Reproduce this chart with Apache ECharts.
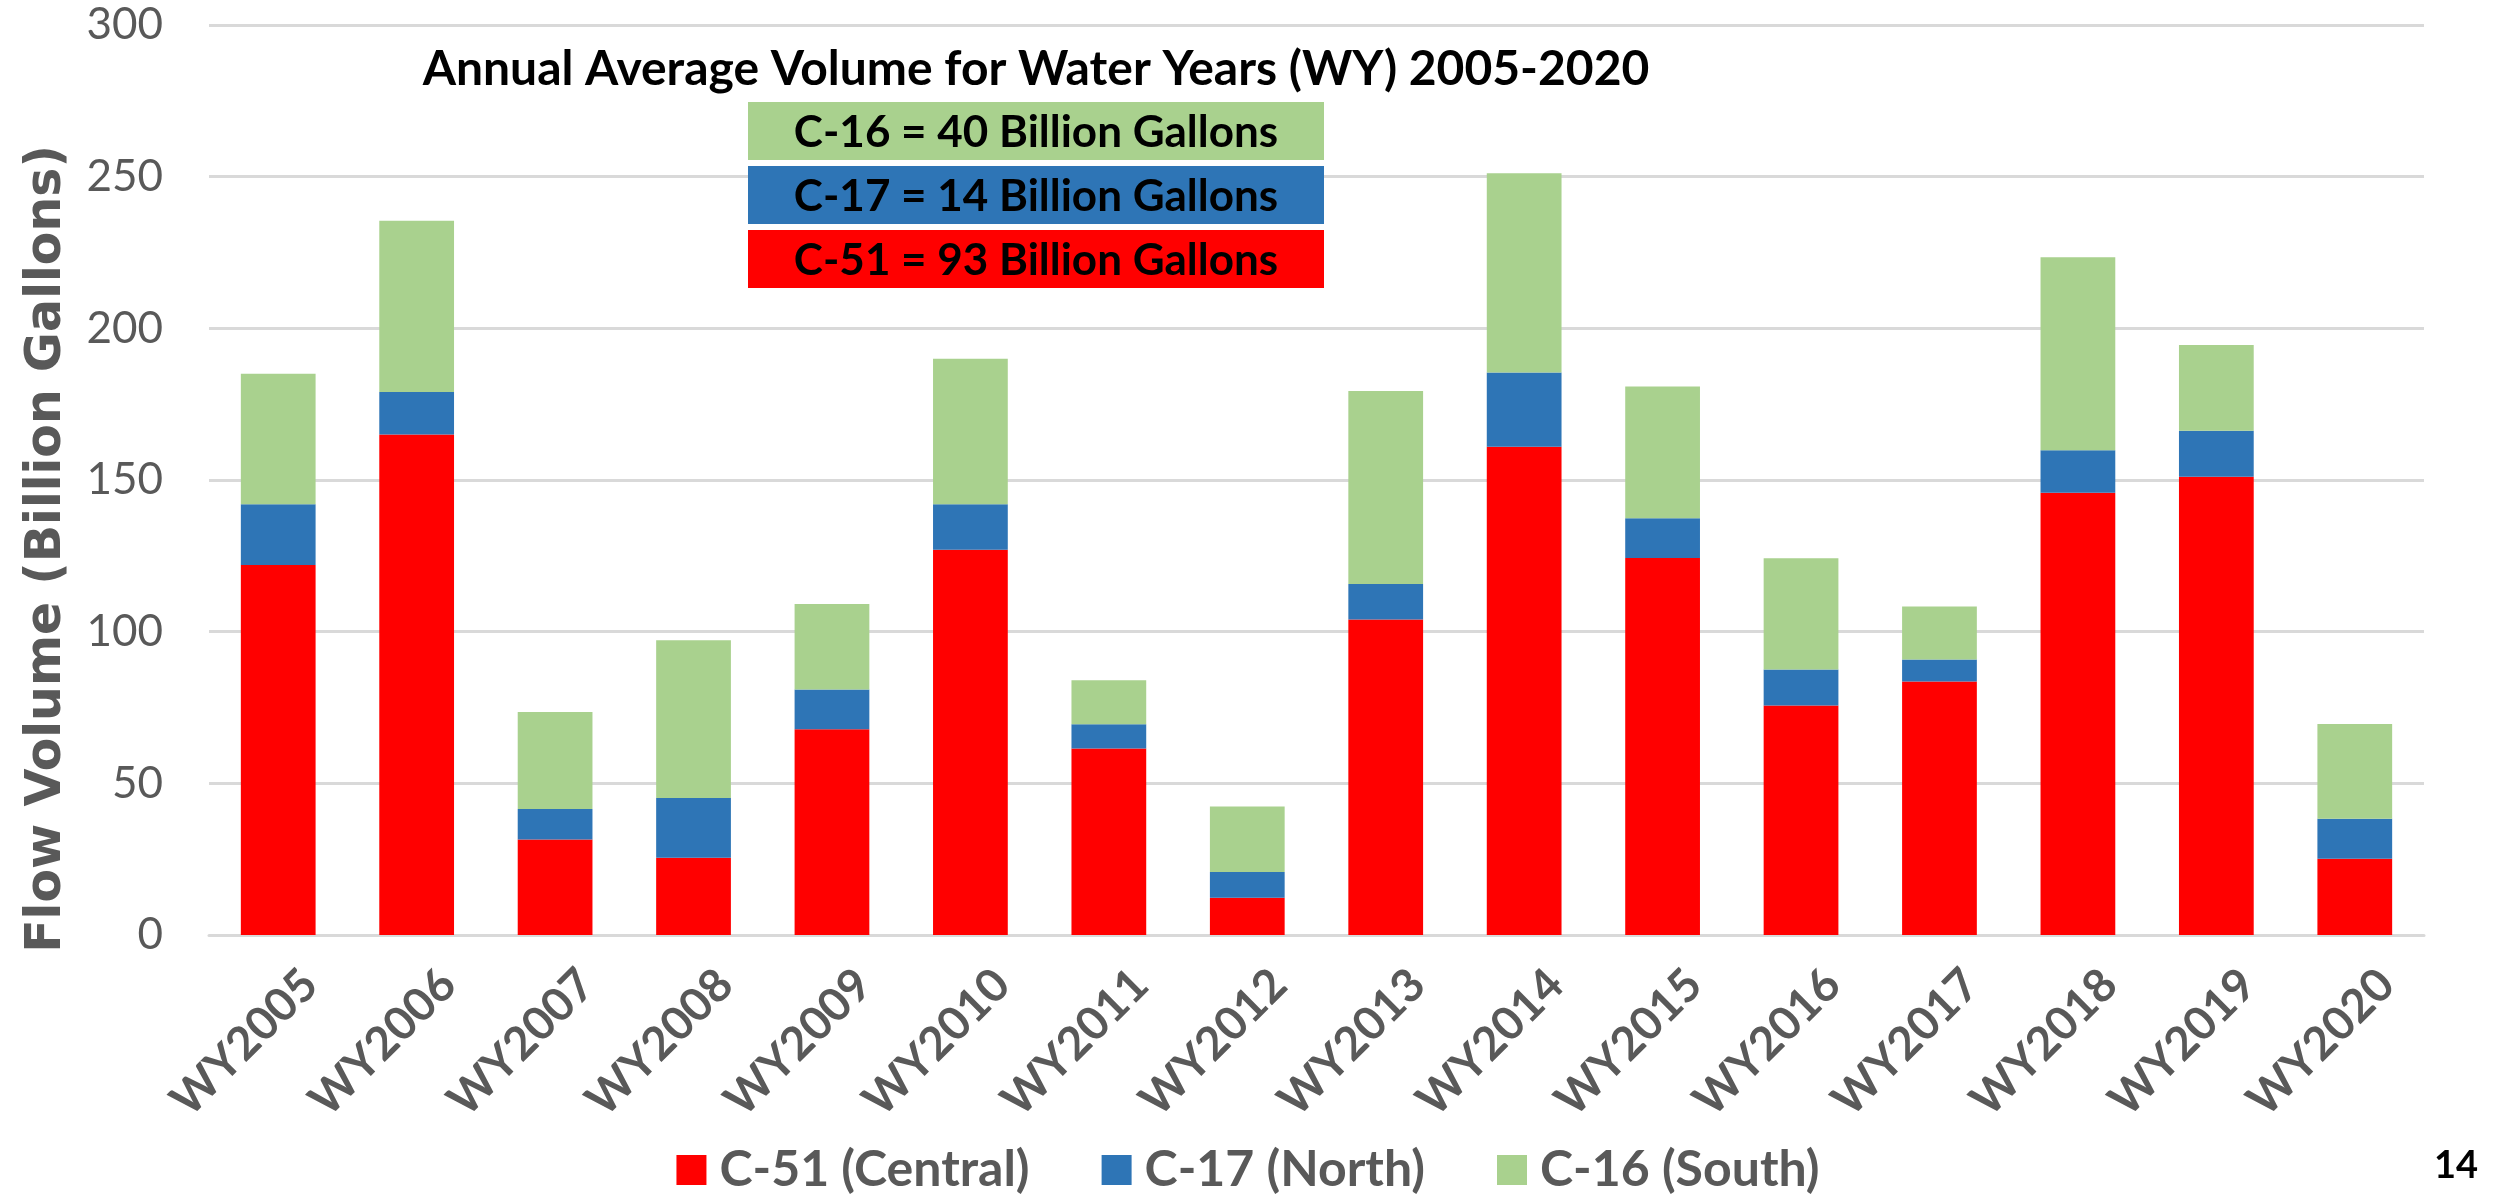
<!DOCTYPE html>
<html>
<head>
<meta charset="utf-8">
<title>Annual Average Volume</title>
<script src="https://cdn.jsdelivr.net/npm/echarts@6/dist/echarts.min.js"></script>
<style>
    html, body {margin: 0; padding: 0; background: #fff;}
    #chart {width: 2496px; height: 1197px;}
</style>
</head>
<body>
<div id="chart"></div>
<script>
// water years
var years = ['WY2005', 'WY2006', 'WY2007', 'WY2008', 'WY2009', 'WY2010', 'WY2011', 'WY2012',
    'WY2013', 'WY2014', 'WY2015', 'WY2016', 'WY2017', 'WY2018', 'WY2019', 'WY2020'];
// C-51 (Central), billion gallons
var c51 = [122, 165, 31.5, 25.5, 67.8, 127, 61.5, 12.3, 104, 161, 124.3, 75.7, 83.6, 145.8, 151.1, 25.1];
// C-17 (North)
var c17 = [20, 14, 10, 19.7, 13.1, 15, 8, 8.5, 11.7, 24.4, 13.1, 11.8, 7.2, 14, 15.1, 13.2];
// C-16 (South)
var c16 = [43, 56.5, 32, 52, 28.2, 48, 14.5, 21.6, 63.6, 65.7, 43.4, 36.7, 17.5, 63.6, 28.3, 31.3];
var yTicks = [0, 50, 100, 150, 200, 250, 300];
var title = 'Annual Average Volume for Water Years (WY) 2005-2020';
var averages = [
    {text: 'C-16 = 40 Billion Gallons', color: '#A9D18E'},
    {text: 'C-17 = 14 Billion Gallons', color: '#2E75B6'},
    {text: 'C-51 = 93 Billion Gallons', color: '#FF0000'}
];

var labelFont = 'Lato, "Open Sans", sans-serif';
var gray = '#595959';

var myChart = echarts.init(document.getElementById('chart'));

// 平均值方框 (absolute position, drawn above the grid lines)
var boxes = [];
averages.forEach(function(a, i) {
    var y0 = 102 + i * 64;
    boxes.push({
        type: 'rect',
        z: 100,
        shape: {x: 748, y: y0, width: 576, height: 58},
        style: {fill: a.color}
    });
    boxes.push({
        type: 'text',
        z: 101,
        x: 1036,
        y: y0 + 31,
        style: {
            text: a.text,
            font: 'bold 44px ' + labelFont,
            fill: '#000',
            align: 'center',
            verticalAlign: 'middle'
        }
    });
});

var basic = {
    type: 'bar',
    stack: 'total',
    barWidth: '54%'
};

var option = {
    animation: false,
    backgroundColor: '#fff',
    grid: {left: 209, right: 72, top: 25, bottom: 262},
    legend: {
        top: 1140,
        left: 'center',
        icon: 'rect',
        itemWidth: 30,
        itemHeight: 30,
        itemGap: 72,
        textStyle: {
            color: gray,
            fontFamily: labelFont,
            fontSize: 50,
            fontWeight: 'bold',
            padding: [0, 0, 0, 8]
        },
        data: ['C-51 (Central)', 'C-17 (North)', 'C-16 (South)']
    },
    xAxis: {
        type: 'category',
        data: years,
        axisTick: {show: false},
        axisLine: {lineStyle: {color: '#D9D9D9', width: 3}},
        axisLabel: {
            rotate: 45,
            margin: 74,
            // 右侧负 padding 让标签沿斜线往右上挪
            padding: [0, -45, 0, 0],
            color: gray,
            fontFamily: labelFont,
            fontSize: 46,
            fontWeight: 'bold'
        }
    },
    yAxis: {
        type: 'value',
        min: yTicks[0],
        max: yTicks[yTicks.length - 1],
        interval: 50,
        axisLine: {show: false},
        axisTick: {show: false},
        splitLine: {lineStyle: {color: '#D9D9D9', width: 3}},
        axisLabel: {
            margin: 46,
            color: gray,
            fontFamily: labelFont,
            fontSize: 44
        }
    },
    graphic: [
        {
            type: 'text',
            x: 1036,
            y: 70,
            style: {
                text: title,
                font: 'bold 48px ' + labelFont,
                fill: '#000',
                align: 'center',
                verticalAlign: 'middle'
            }
        },
        {
            // y轴标题
            type: 'text',
            x: 47,
            y: 549,
            rotation: Math.PI / 2,
            style: {
                text: 'Flow Volume (Billion Gallons)',
                font: 'bold 49px "DejaVu Sans", Verdana, sans-serif',
                fill: gray,
                align: 'center',
                verticalAlign: 'middle'
            }
        },
        {
            type: 'text',
            x: 2478,
            y: 1166,
            style: {
                text: '14',
                font: 'bold 38px ' + labelFont,
                fill: '#000',
                align: 'right',
                verticalAlign: 'middle'
            }
        }
    ].concat(boxes),
    series: [
        Object.assign({name: 'C-51 (Central)', data: c51, itemStyle: {color: '#FF0000'}}, basic),
        Object.assign({name: 'C-17 (North)', data: c17, itemStyle: {color: '#2E75B6'}}, basic),
        Object.assign({name: 'C-16 (South)', data: c16, itemStyle: {color: '#A9D18E'}}, basic)
    ]
};

myChart.setOption(option);
</script>
</body>
</html>
